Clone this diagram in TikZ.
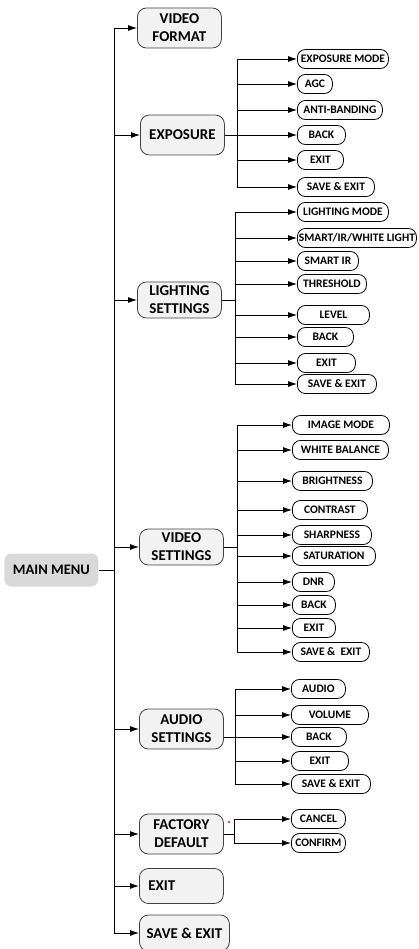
\documentclass[tikz,border=0pt]{standalone}
\usepackage{fontspec}
\setmainfont{Carlito}
\usetikzlibrary{arrows.meta}
\tikzstyle{mainbox}=[fill=black!15, rounded corners=7pt, anchor=west, minimum width=94pt, minimum height=33pt, font=\fontsize{14.5}{16}\selectfont\bfseries]
\tikzstyle{menubox}=[draw=black!75, fill=black!5, rounded corners=9pt, anchor=west, minimum width=84pt, minimum height=38pt, align=center, font=\fontsize{15}{18}\selectfont\bfseries]
\tikzstyle{leaf}=[draw, fill=white, rounded corners=8pt, anchor=west, minimum height=19pt, inner xsep=1pt, inner ysep=2pt, font=\fontsize{11.5}{12}\selectfont\bfseries]
\newcommand{\topnode}{\node[menubox]}
\newcommand{\leafnode}{\node[leaf]}

\begin{document}
\begin{tikzpicture}[x=1pt, y=-1pt, line width=0.8pt
  ,>={Latex[length=9pt,width=6pt]}
]
\useasboundingbox (0,0) rectangle (418,949);
\node[mainbox] (mm) at (4,570) {MAIN MENU};
\coordinate (t) at (114,570);
% first level
\topnode (vf) at (137,28) [minimum height=40pt] {VIDEO\\FORMAT};
\topnode (exp) at (140,135) [minimum height=40pt] {EXPOSURE};
\topnode (light) at (137,300) [minimum height=36pt] {LIGHTING\\SETTINGS};
\topnode (vs) at (139,547) [minimum height=36pt] {VIDEO\\SETTINGS};
\topnode (aud) at (139,729) [minimum height=40pt] {AUDIO\\SETTINGS};
\topnode (fd) at (139,834) [minimum height=40pt] {FACTORY\\DEFAULT};
\topnode (ex) at (139,886) [minimum height=35pt, text width=66pt, inner xsep=9pt, align=left] {EXIT};
\topnode (se) at (139,933) [minimum width=90pt, minimum height=36pt] {SAVE \& EXIT};
% exposure
\leafnode (e1) at (297,59) [minimum width=91pt] {EXPOSURE MODE};
\leafnode (e2) at (297,84) [minimum width=35pt] {AGC};
\leafnode (e3) at (297,110) [minimum width=85pt] {ANTI-BANDING};
\leafnode (e4) at (297,135) [minimum width=48pt] {BACK};
\leafnode (e5) at (297,160) [minimum width=46pt] {EXIT};
\leafnode (e6) at (297,187) [minimum width=77pt] {SAVE \& EXIT};
% lighting
\leafnode (l1) at (297,212) [minimum width=91pt] {LIGHTING MODE};
\leafnode (l2) at (297,238) [minimum width=119pt, inner xsep=0pt] {SMART/IR/WHITE LIGHT};
\leafnode (l3) at (297,261) [minimum width=61pt] {SMART IR};
\leafnode (l4) at (297,284) [minimum width=69pt] {THRESHOLD};
\leafnode (l5) at (297,315) [minimum width=72pt] {LEVEL};
\leafnode (l6) at (297,337) [minimum width=56pt] {BACK};
\leafnode (l7) at (297,363) [minimum width=58pt] {EXIT};
\leafnode (l8) at (297,384) [minimum width=79pt] {SAVE \& EXIT};
% video settings
\leafnode (v1) at (292,425) [minimum width=97pt] {IMAGE MODE};
\leafnode (v2) at (292,450) [minimum width=96pt] {WHITE BALANCE};
\leafnode (v3) at (292,481) [minimum width=80pt] {BRIGHTNESS};
\leafnode (v4) at (292,510) [minimum width=75pt] {CONTRAST};
\leafnode (v5) at (292,535) [minimum width=79pt] {SHARPNESS};
\leafnode (v6) at (292,556) [minimum width=83pt] {SATURATION};
\leafnode (v7) at (292,582) [minimum width=42pt] {DNR};
\leafnode (v8) at (292,605) [minimum width=43pt] {BACK};
\leafnode (v9) at (292,628) [minimum width=43pt] {EXIT};
\leafnode (v10) at (292,652) [minimum width=77pt] {SAVE \&\ \ EXIT};
% audio
\leafnode (a1) at (291,689) [minimum width=54pt] {AUDIO};
\leafnode (a2) at (291,715) [minimum width=77pt] {VOLUME};
\leafnode (a3) at (291,737) [minimum width=55pt] {BACK};
\leafnode (a4) at (291,761) [minimum width=57pt] {EXIT};
\leafnode (a5) at (291,784) [minimum width=79pt] {SAVE \& EXIT};
% factory default
\leafnode (f1) at (291,819) [minimum width=54pt] {CANCEL};
\leafnode (f2) at (291,843) [minimum width=54pt] {CONFIRM};
\node[text=red, inner sep=0pt, font=\fontsize{9}{9}\selectfont\bfseries] (star) at (229,824) {*};

\coordinate (eb) at (237,135);
\coordinate (lb) at (235,300);
\coordinate (vb) at (237,547);
\coordinate (ab) at (235,737);
\coordinate (fb) at (234,834);

\draw (mm) -- (t);
\draw (t |- vf.west) -- (t |- se.west);
\foreach \n in {vf,exp,light,vs,aud,fd,ex,se}
  \draw[->] (t |- \n.west) -- (\n.west);
\draw (exp.east) -- (eb);
\foreach \i in {1,...,6} \draw[->] (eb) |- (e\i.west);
\draw (light.east) -- (lb);
\foreach \i in {1,...,8} \draw[->] (lb) |- (l\i.west);
\draw (vs.east) -- (vb);
\foreach \i in {1,...,10} \draw[->] (vb) |- (v\i.west);
\draw (ab -| aud.east) -- (ab);
\foreach \i in {1,...,5} \draw[->] (ab) |- (a\i.west);
\draw (fd.east) -- (fb);
\foreach \i in {1,2} \draw[->] (fb) |- (f\i.west);
\end{tikzpicture}
\end{document}
